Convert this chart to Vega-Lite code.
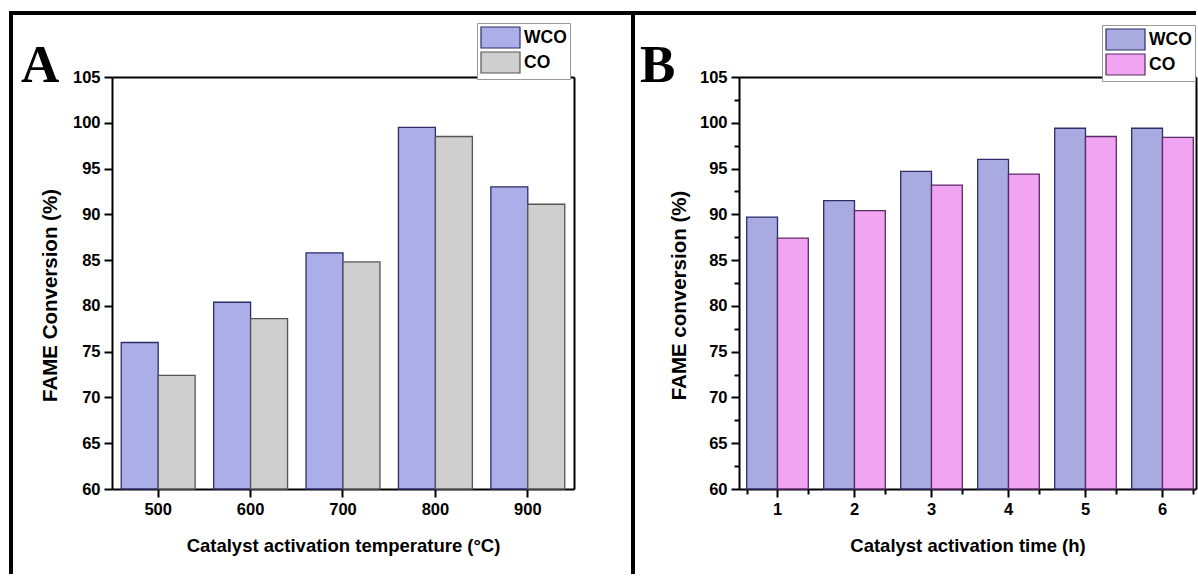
{
  "$schema": "https://vega.github.io/schema/vega-lite/v6.json",
  "padding": {"left": 9, "top": 11, "right": 0, "bottom": 0},
  "autosize": {"type": "pad"},
  "background": "white",
  "datasets": {
    "tempData": [
      {"temp": "500", "series": "WCO", "val": 76.0},
      {"temp": "500", "series": "CO", "val": 72.4},
      {"temp": "600", "series": "WCO", "val": 80.4},
      {"temp": "600", "series": "CO", "val": 78.6},
      {"temp": "700", "series": "WCO", "val": 85.8},
      {"temp": "700", "series": "CO", "val": 84.8},
      {"temp": "800", "series": "WCO", "val": 99.5},
      {"temp": "800", "series": "CO", "val": 98.5},
      {"temp": "900", "series": "WCO", "val": 93.0},
      {"temp": "900", "series": "CO", "val": 91.1}
    ],
    "timeData": [
      {"time": "1", "series": "WCO", "val": 89.7},
      {"time": "1", "series": "CO", "val": 87.4},
      {"time": "2", "series": "WCO", "val": 91.5},
      {"time": "2", "series": "CO", "val": 90.4},
      {"time": "3", "series": "WCO", "val": 94.7},
      {"time": "3", "series": "CO", "val": 93.2},
      {"time": "4", "series": "WCO", "val": 96.0},
      {"time": "4", "series": "CO", "val": 94.4},
      {"time": "5", "series": "WCO", "val": 99.4},
      {"time": "5", "series": "CO", "val": 98.5},
      {"time": "6", "series": "WCO", "val": 99.4},
      {"time": "6", "series": "CO", "val": 98.4}
    ]
  },
  "spacing": 0,
  "bounds": "flush",
  "resolve": {"scale": {"fill": "independent", "stroke": "independent", "xOffset": "independent"}},
  "hconcat": [
    {
      "width": 622,
      "height": 561,
      "view": {"stroke": "black", "strokeWidth": 4, "strokeDash": [1183, 622, 571], "fill": "white"},
      "title": {"text": "A", "anchor": "start", "frame": "group", "font": "Liberation Serif", "fontSize": 53, "fontWeight": "bold", "color": "black", "offset": -80, "dx": 10},
      "data": {"name": "tempData"},
      "layer": [
        {
          "mark": {"type": "bar", "strokeWidth": 1.3},
          "encoding": {
            "x": {"field": "temp", "type": "nominal", "sort": ["500", "600", "700", "800", "900"],
              "scale": {"range": [101, 563], "paddingInner": 0.2, "paddingOuter": 0.1},
              "axis": {"orient": "bottom", "offset": -85, "labelAngle": 0, "title": "Catalyst activation temperature (°C)", "titleFontSize": 18.5, "titlePadding": 19}},
            "xOffset": {"field": "series", "type": "nominal", "sort": ["WCO", "CO"]},
            "y": {"field": "val", "type": "quantitative",
              "scale": {"domain": [60, 105], "range": [476, 64], "zero": false, "nice": false},
              "axis": {"orient": "left", "offset": -101, "values": [60, 65, 70, 75, 80, 85, 90, 95, 100, 105], "title": "FAME Conversion (%)", "titleFontSize": 20.5, "titlePadding": 12, "titleY": 282}},
            "y2": {"datum": 60},
            "fill": {"field": "series", "type": "nominal", "sort": ["WCO", "CO"],
              "scale": {"domain": ["WCO", "CO"], "range": ["#abaee8", "#cfcfcf"]},
              "legend": {"orient": "none", "legendX": 466, "legendY": 10, "title": null, "symbolType": "M-1.857,-1L1.857,-1L1.857,1L-1.857,1Z", "symbolSize": 441, "symbolOffset": 9, "symbolStrokeColor": "#333344", "symbolStrokeWidth": 1.2, "labelFont": "Liberation Sans", "labelFontWeight": "bold", "labelFontSize": 17.5, "labelColor": "black", "labelOffset": 12, "rowPadding": -5, "padding": 3, "strokeColor": "#999999", "fillColor": "white"}},
            "stroke": {"field": "series", "type": "nominal", "scale": {"domain": ["WCO", "CO"], "range": ["#2d2d66", "#555555"]}, "legend": null}
          }
        },
        {
          "mark": {"type": "bar", "opacity": 0},
          "encoding": {
            "x": {"field": "temp", "type": "nominal", "sort": ["500", "600", "700", "800", "900"],
              "axis": {"orient": "top", "offset": -64, "labels": false, "ticks": false, "title": null}},
            "y": {"field": "val", "type": "quantitative",
              "axis": {"orient": "right", "offset": -59, "labels": false, "ticks": false, "title": null}},
            "y2": {"datum": 60}
          }
        }
      ],
      "resolve": {"axis": {"x": "independent", "y": "independent"}}
    },
    {
      "width": 563,
      "height": 561,
      "view": {"stroke": "black", "strokeWidth": 4, "strokeDash": [563, 1124, 571], "fill": "white"},
      "title": {"text": "B", "anchor": "start", "frame": "group", "font": "Liberation Serif", "fontSize": 53, "fontWeight": "bold", "color": "black", "offset": -80, "dx": 7},
      "data": {"name": "timeData"},
      "layer": [
        {
          "mark": {"type": "bar", "strokeWidth": 1.3},
          "encoding": {
            "x": {"field": "time", "type": "nominal", "sort": ["1", "2", "3", "4", "5", "6"],
              "scale": {"range": [106, 563], "paddingInner": 0.2, "paddingOuter": 0.0675, "align": 0.74},
              "axis": {"orient": "bottom", "offset": -85, "labelAngle": 0, "title": "Catalyst activation time (h)", "titleFontSize": 18.5, "titlePadding": 19}},
            "xOffset": {"field": "series", "type": "nominal", "sort": ["WCO", "CO"]},
            "y": {"field": "val", "type": "quantitative",
              "scale": {"domain": [60, 105], "range": [476, 64], "zero": false, "nice": false},
              "axis": {"orient": "left", "offset": -106, "values": [60, 65, 70, 75, 80, 85, 90, 95, 100, 105], "title": "FAME conversion (%)", "titleFontSize": 20.5, "titlePadding": 10, "titleY": 282}},
            "y2": {"datum": 60},
            "fill": {"field": "series", "type": "nominal", "sort": ["WCO", "CO"],
              "scale": {"domain": ["WCO", "CO"], "range": ["#a9abe0", "#f0a4f2"]},
              "legend": {"orient": "none", "legendX": 469, "legendY": 12, "title": null, "symbolType": "M-1.857,-1L1.857,-1L1.857,1L-1.857,1Z", "symbolSize": 441, "symbolOffset": 9, "symbolStrokeColor": "#333344", "symbolStrokeWidth": 1.2, "labelFont": "Liberation Sans", "labelFontWeight": "bold", "labelFontSize": 17.5, "labelColor": "black", "labelOffset": 12, "rowPadding": -5, "padding": 3, "strokeColor": "#999999", "fillColor": "white"}},
            "stroke": {"field": "series", "type": "nominal", "scale": {"domain": ["WCO", "CO"], "range": ["#2c2c66", "#5a2a66"]}, "legend": null}
          }
        },
        {
          "mark": {"type": "bar", "opacity": 0},
          "encoding": {
            "x": {"field": "time", "type": "nominal", "sort": ["1", "2", "3", "4", "5", "6"],
              "axis": {"orient": "top", "offset": -64, "labels": false, "ticks": false, "title": null}},
            "y": {"field": "val", "type": "quantitative",
              "axis": {"orient": "right", "offset": 0, "labels": false, "ticks": false, "title": null}},
            "y2": {"datum": 60}
          }
        },
        {
          "mark": {"type": "bar", "opacity": 0},
          "encoding": {
            "x": {"field": "time", "type": "nominal", "sort": ["1", "2", "3", "4", "5", "6"],
              "axis": {"orient": "bottom", "offset": -85, "tickBand": "extent", "labels": false, "domain": false, "tickSize": 5, "title": null}},
            "y": {"field": "val", "type": "quantitative",
              "axis": {"orient": "left", "offset": -106, "values": [62.5, 67.5, 72.5, 77.5, 82.5, 87.5, 92.5, 97.5, 102.5], "labels": false, "domain": false, "tickSize": 5, "title": null}},
            "y2": {"datum": 60}
          }
        }
      ],
      "resolve": {"axis": {"x": "independent", "y": "independent"}}
    }
  ],
  "config": {
    "axis": {
      "grid": false,
      "zindex": 1,
      "domainColor": "black",
      "domainWidth": 2,
      "tickColor": "black",
      "tickWidth": 2,
      "tickSize": 8,
      "labelFont": "Liberation Sans",
      "labelFontWeight": "bold",
      "labelFontSize": 16.5,
      "labelColor": "black",
      "labelPadding": 4,
      "titleFont": "Liberation Sans",
      "titleFontWeight": "bold",
      "titleColor": "black"
    }
  }
}
